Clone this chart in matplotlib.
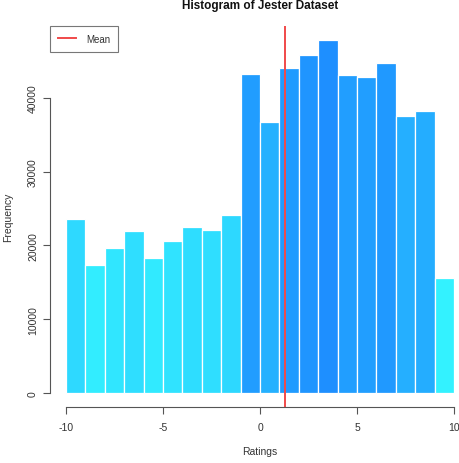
import numpy as np
import matplotlib.pyplot as plt
from matplotlib.colors import to_rgb
from matplotlib.lines import Line2D

plt.rcParams['font.family'] = ['Liberation Sans', 'DejaVu Sans']
plt.rcParams['axes.unicode_minus'] = False

bin_edges = list(range(-10, 11))
counts = [23600, 17360, 19660, 21970, 18300, 20610, 22510, 22100, 24140, 43250,
          36750, 44070, 45830, 47860, 43120, 42850, 44750, 37560, 38240, 15590]
mean_rating = 1.29

fig = plt.figure(figsize=(4.59, 4.64), dpi=100)
ax = fig.add_axes([0.110, 0.1207, 0.9129, 0.8211])

# colour ramp from cyan (low) to dodgerblue (high) by count
lo = np.array(to_rgb("#33F2FF"))
hi = np.array(to_rgb("#1E8FFF"))
c = np.array(counts, dtype=float)
frac = (c - c.min()) / (c.max() - c.min())
colors = [tuple(lo + f * (hi - lo)) for f in frac]

left = np.array(bin_edges[:-1])
ax.bar(left, counts, width=np.diff(bin_edges), align='edge',
       color=colors, edgecolor='white', linewidth=0.9)

ax.axvline(mean_rating, color='#F04A4A', linewidth=1.4)

ax.set_xlim(-10.8, 10.8)
ax.set_ylim(-1914, 49774)

for s in ['top', 'right']:
    ax.spines[s].set_visible(False)
ax.spines['bottom'].set_bounds(-10, 10)
ax.spines['left'].set_bounds(0, 40000)
for s in ['bottom', 'left']:
    ax.spines[s].set_color('#555555')
    ax.spines[s].set_linewidth(0.8)

ax.set_xticks([-10, -5, 0, 5, 10])
ax.set_yticks([0, 10000, 20000, 30000, 40000])
ax.tick_params(axis='both', direction='out', length=5, width=0.8,
               color='#555555', labelsize=7.5, labelcolor='#333333', pad=4)
ax.tick_params(axis='x', pad=6)
for lab in ax.get_yticklabels():
    lab.set_rotation(90)
    lab.set_va('center')

ax.set_xlabel('Ratings', fontsize=7.5, color='#333333', labelpad=10)
ax.set_ylabel('Frequency', fontsize=7.5, color='#333333', labelpad=11)
fig.text(0.566, 1 - 9 / 464, 'Histogram of Jester Dataset', fontsize=8.5,
         fontweight='bold', ha='center', va='baseline', color='#111111')

handle = Line2D([], [], color='#F04A4A', linewidth=1.4)
leg = ax.legend([handle], ['Mean'], loc='upper left', fontsize=7,
                fancybox=False, edgecolor='#555555', borderaxespad=0,
                handlelength=1.85, borderpad=0.8, handletextpad=1.0)
leg.get_frame().set_linewidth(0.8)
for t in leg.get_texts():
    t.set_color('#333333')

fig.savefig('out.png', dpi=100)
